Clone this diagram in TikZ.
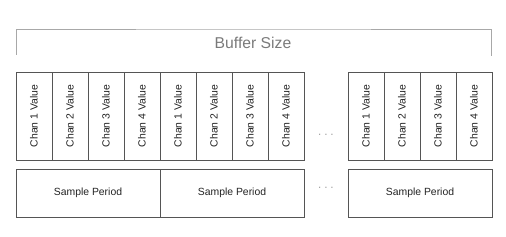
\documentclass[tikz,border=0pt]{standalone}
\usepackage{fontspec}
\setmainfont{Liberation Sans}
\usepackage{tikz}
\usetikzlibrary{positioning,calc}
\definecolor{BoxGray}{HTML}{555555}
\definecolor{BracketGray}{HTML}{A8A8A8}
\definecolor{LabelGray}{HTML}{7A7A7A}
\definecolor{TextDark}{HTML}{222222}

\begin{document}
\begin{tikzpicture}[x=1pt, y=-1pt,
  every node/.style={font=\fontsize{10.4}{12}\selectfont, text=TextDark, align=center},
  cell/.style={draw=BoxGray, line width=0.9pt, rotate=90, minimum width=88pt, minimum height=36pt, inner sep=0pt},
  period/.style={draw=BoxGray, line width=0.9pt, minimum width=144pt, minimum height=48pt, inner sep=0pt},
  gap/.style={font=\fontsize{10}{11}\selectfont, text=LabelGray}]
  \useasboundingbox (0,0) rectangle (506,237);

  % Buffer size bracket
  \coordinate (bl) at (16,55);
  \coordinate (br) at (491,56);
  \draw[BracketGray, line width=0.8pt] (bl) |- (253,29) -| (br);
  \node[font=\fontsize{15.7}{18}\selectfont, text=LabelGray] (size) at (253,43) {Buffer Size};

  % Channel values, first two sample periods
  \foreach \i in {0,...,7} {
    \pgfmathtruncatemacro{\ch}{mod(\i,4)+1}
    \node[cell] (c\i) at (34+36*\i,116) {Chan \ch{} Value};
  }
  % Channel values, last sample period
  \foreach \i in {0,...,3} {
    \pgfmathtruncatemacro{\ch}{\i+1}
    \node[cell] (d\i) at (366+36*\i,116) {Chan \ch{} Value};
  }

  % Sample periods
  \node[period] (p1) at (88,193) {Sample Period};
  \node[period] (p2) at (232,193) {Sample Period};
  \node[period] (p3) at (420,193) {Sample Period};

  % Gaps
  \node[gap] (g1) at (326,136) {· · ·};
  \node[gap] (g2) at (326,189) {· · ·};
\end{tikzpicture}
\end{document}
